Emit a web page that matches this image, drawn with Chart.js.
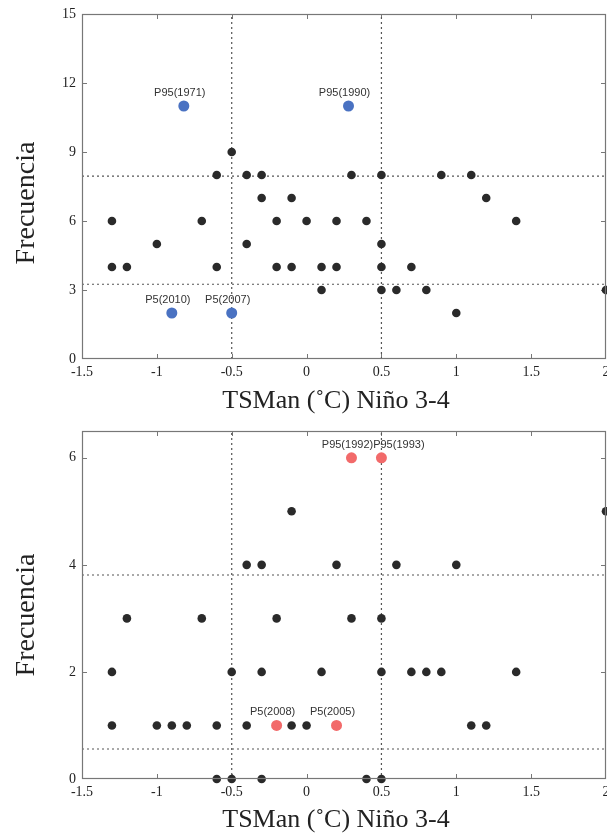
<!DOCTYPE html>
<html>
<head>
<meta charset="utf-8">
<script src="https://cdn.jsdelivr.net/npm/chart.js@4.4.0/dist/chart.umd.min.js"></script>
<style>
  html, body { margin: 0; padding: 0; background: #fff; }
  #wrap { position: relative; width: 607px; height: 837px; overflow: hidden; }
  canvas { position: absolute; left: 0; }
</style>
</head>
<body>
<div id="wrap">
  <canvas id="topChart" width="607" height="418" style="top:0"></canvas>
  <canvas id="bottomChart" width="607" height="419" style="top:418px"></canvas>
</div>
<script>
// shared x axis
const xTicks = [-1.5, -1, -0.5, 0, 0.5, 1, 1.5, 2];
const xLimits = [-1.5, 2];
const vLines = [-0.5, 0.5];
const xTitle = "TSMan (\u02DAC) Niño 3-4";
const yTitle = "Frecuencia";

// upper panel
const topYTicks = [0, 3, 6, 9, 12, 15];
const topYLimits = [0, 15];
const topHLines = [7.95, 3.25];
const topX = [-1.3, -1.3, -1.2, -1.0, -0.7, -0.6, -0.6, -0.5, -0.4, -0.4, -0.3, -0.3, -0.2, -0.2, -0.1, -0.1,
  0, 0.1, 0.1, 0.2, 0.2, 0.3, 0.4, 0.5, 0.5, 0.5, 0.5, 0.6, 0.7, 0.8, 0.9, 1.0, 1.1, 1.2, 1.4, 2.0];
const topY = [6, 4, 4, 5, 6, 4, 8, 9, 8, 5, 8, 7, 6, 4, 7, 4,
  6, 4, 3, 6, 4, 8, 6, 8, 5, 4, 3, 3, 4, 3, 8, 2, 8, 7, 6, 3];
const topHighX = [-0.82, 0.28, -0.9, -0.5];
const topHighY = [11, 11, 2, 2];
const topHighLabels = ["P95(1971)", "P95(1990)", "P5(2010)", "P5(2007)"];

// lower panel
const botYTicks = [0, 2, 4, 6];
const botYLimits = [0, 6.5];
const botHLines = [3.81, 0.56];
const botX = [-0.1, 2.0,
  -0.4, -0.3, 0.2, 0.6, 1.0,
  -1.2, -0.7, -0.2, 0.3, 0.5,
  -1.3, -0.5, -0.3, 0.1, 0.5, 0.7, 0.8, 0.9, 1.4,
  -1.3, -1.0, -0.9, -0.8, -0.6, -0.4, -0.1, 0.0, 1.1, 1.2,
  -0.6, -0.5, -0.3, 0.4, 0.5];
const botY = [5, 5,
  4, 4, 4, 4, 4,
  3, 3, 3, 3, 3,
  2, 2, 2, 2, 2, 2, 2, 2, 2,
  1, 1, 1, 1, 1, 1, 1, 1, 1, 1,
  0, 0, 0, 0, 0];
const botHighX = [0.3, 0.5, -0.2, 0.2];
const botHighY = [6, 6, 1, 1];
const botHighLabels = ["P95(1992)", "P95(1993)", "P5(2008)", "P5(2005)"];

const serif = "'Liberation Serif', 'Times New Roman', serif";

function pts(xs, ys) {
  return xs.map((x, i) => ({ x: x, y: ys[i] }));
}

function refLines(hLines) {
  const sets = [];
  hLines.forEach((v) => sets.push(pts(xLimits, [v, v])));
  vLines.forEach((v) => sets.push(pts([v, v], [-1000, 1000])));
  return sets.map((d) => ({
    data: d,
    showLine: true,
    pointRadius: 0,
    borderColor: "#555",
    borderWidth: 1.2,
    borderDash: [2, 3],
    order: 5,
  }));
}

// box, inward ticks, point labels and axis titles
const framePlugin = {
  id: "frame",
  beforeDatasetsDraw(chart) {
    const { ctx, chartArea: a, scales } = chart;
    ctx.save();
    ctx.beginPath();
    ctx.rect(a.left, a.top, a.width, a.height);
    ctx.clip();
    ctx.strokeStyle = "#777";
    ctx.lineWidth = 1;
    ctx.beginPath();
    scales.x.ticks.forEach((t) => {
      const px = Math.round(scales.x.getPixelForValue(t.value)) + 0.5;
      ctx.moveTo(px, a.bottom); ctx.lineTo(px, a.bottom - 5);
      ctx.moveTo(px, a.top); ctx.lineTo(px, a.top + 5);
    });
    scales.y.ticks.forEach((t) => {
      const py = Math.round(scales.y.getPixelForValue(t.value)) + 0.5;
      ctx.moveTo(a.left, py); ctx.lineTo(a.left + 5, py);
      ctx.moveTo(a.right, py); ctx.lineTo(a.right - 5, py);
    });
    ctx.stroke();
    ctx.restore();
  },
  afterDraw(chart, args, opts) {
    const { ctx, chartArea: a } = chart;
    ctx.save();
    ctx.strokeStyle = "#777";
    ctx.lineWidth = 1.2;
    ctx.strokeRect(a.left + 0.5, a.top + 0.5, a.width - 1, a.height - 1);

    // labels of the highlighted years
    const meta = chart.getDatasetMeta(0);
    ctx.font = "11px 'Liberation Sans', Arial, sans-serif";
    ctx.fillStyle = "#333";
    ctx.textBaseline = "middle";
    ctx.textAlign = "left";
    let prevEnd = -Infinity, prevY = null;
    opts.labels.forEach((txt, i) => {
      const el = meta.data[i];
      const w = ctx.measureText(txt).width;
      let left = el.x - 4 - w / 2;
      const ly = el.y - 13;
      if (prevY === ly && left < prevEnd) left = prevEnd;
      ctx.fillText(txt, left, ly);
      prevEnd = left + w;
      prevY = ly;
    });

    // axis titles
    ctx.fillStyle = "#222";
    ctx.textAlign = "center";
    ctx.font = "26px " + serif;
    ctx.fillText(xTitle, 336, opts.xTitleY);
    ctx.translate(27, opts.yTitleY);
    ctx.rotate(-Math.PI / 2);
    ctx.font = "28px " + serif;
    ctx.fillText(yTitle, 0, 0);
    ctx.restore();
  },
};

function makeChart(id, cfg) {
  const canvas = document.getElementById(id);
  return new Chart(canvas.getContext("2d"), {
    type: "scatter",
    data: {
      datasets: [
        {
          data: pts(cfg.highX, cfg.highY),
          backgroundColor: cfg.highColor,
          borderWidth: 0,
          pointRadius: 5.5,
          clip: false,
          order: 0,
        },
        {
          data: pts(cfg.xs, cfg.ys),
          backgroundColor: "#2a2a2a",
          borderWidth: 0,
          pointRadius: 4.3,
          clip: false,
          order: 1,
        },
        ...refLines(cfg.hLines),
      ],
    },
    options: {
      responsive: false,
      animation: false,
      events: [],
      layout: { autoPadding: false, padding: { top: cfg.top, right: 1, left: 0, bottom: 0 } },
      plugins: {
        legend: { display: false },
        tooltip: { enabled: false },
        frame: { labels: cfg.labels, xTitleY: cfg.xTitleY, yTitleY: cfg.yTitleY },
      },
      scales: {
        x: {
          type: "linear",
          min: xLimits[0],
          max: xLimits[1],
          afterBuildTicks: (s) => { s.ticks = xTicks.map((v) => ({ value: v })); },
          afterFit: (s) => {
            s.height = canvas.height - cfg.bottom;
            s.paddingLeft = 0;
            s.paddingRight = 0;
          },
          grid: { display: false, drawTicks: false },
          border: { display: false },
          ticks: {
            padding: 5,
            maxRotation: 0,
            autoSkip: false,
            color: "#222",
            font: { family: serif, size: 14 },
            callback: (v) => String(v),
          },
        },
        y: {
          type: "linear",
          min: cfg.yLimits[0],
          max: cfg.yLimits[1],
          afterBuildTicks: (s) => { s.ticks = cfg.yTicks.map((v) => ({ value: v })); },
          afterFit: (s) => {
            s.width = 82;
            s.paddingTop = 0;
            s.paddingBottom = 0;
          },
          grid: { display: false, drawTicks: false },
          border: { display: false },
          ticks: {
            padding: 6,
            color: "#222",
            font: { family: serif, size: 14 },
            callback: (v) => String(v),
          },
        },
      },
    },
    plugins: [framePlugin],
  });
}

makeChart("topChart", {
  xs: topX, ys: topY, highX: topHighX, highY: topHighY, labels: topHighLabels,
  highColor: "#4a72c2", hLines: topHLines, yTicks: topYTicks, yLimits: topYLimits,
  top: 14, bottom: 359, xTitleY: 401, yTitleY: 203,
});

makeChart("bottomChart", {
  xs: botX, ys: botY, highX: botHighX, highY: botHighY, labels: botHighLabels,
  highColor: "#f26a6a", hLines: botHLines, yTicks: botYTicks, yLimits: botYLimits,
  top: 13, bottom: 361, xTitleY: 402, yTitleY: 197,
});
</script>
</body>
</html>
